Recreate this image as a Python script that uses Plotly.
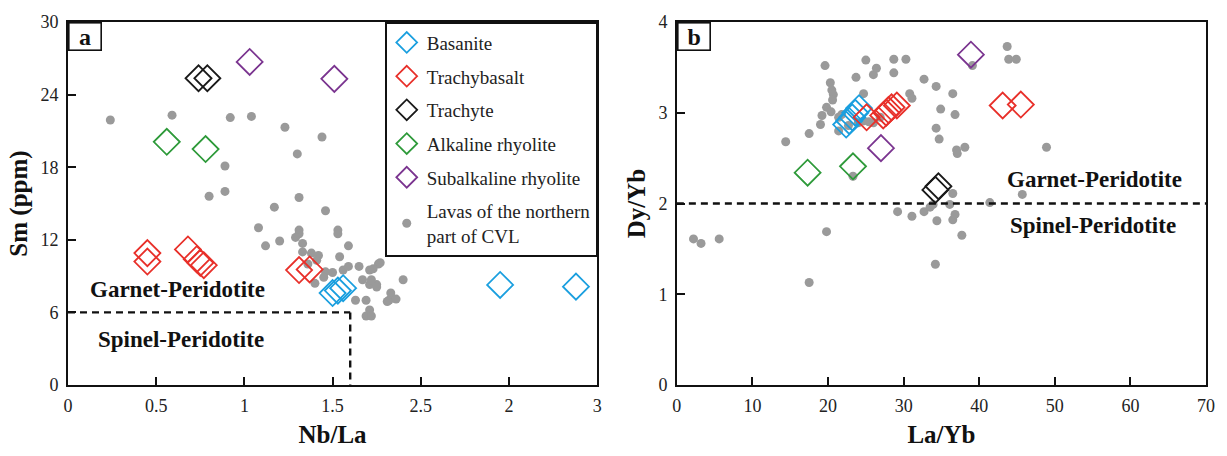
import plotly.graph_objects as go

# ---------------- Panel a data (Nb/La vs Sm) ----------------
a_bas_x = [1.50, 1.53, 1.56, 2.45, 2.88]
a_bas_y = [7.6, 7.8, 8.0, 8.27, 8.13]
a_tb_x = [0.45, 0.45, 0.68, 0.73, 0.75, 0.77, 1.31, 1.37]
a_tb_y = [10.9, 10.2, 11.2, 10.4, 10.1, 9.9, 9.5, 9.55]
a_tr_x = [0.74, 0.79]
a_tr_y = [25.35, 25.35]
a_ar_x = [0.56, 0.78]
a_ar_y = [20.1, 19.5]
a_sr_x = [1.03, 1.51]
a_sr_y = [26.7, 25.3]
a_cvl_x = [0.24, 0.59, 0.92, 1.04, 1.23, 1.44, 1.30, 0.89, 0.80, 0.89, 1.17, 1.31, 1.46,
           1.08, 1.12, 1.20, 1.31, 1.53, 1.31, 1.29, 1.53, 1.33, 1.59, 1.33, 1.38, 1.42,
           1.54, 1.41, 1.46, 1.40, 1.56, 1.59, 1.65, 1.71, 1.76, 1.67, 1.71, 1.75, 1.63,
           1.69, 1.71, 1.69, 1.83, 1.82, 1.90, 1.77, 1.73, 1.72, 1.75, 1.86, 1.81, 1.72,
           2.82, 1.36, 1.45, 1.50]
a_cvl_y = [21.9, 22.3, 22.1, 22.2, 21.3, 20.5, 19.1, 18.1, 15.6, 16.0, 14.7, 15.5, 14.4,
           13.0, 11.5, 11.9, 12.8, 12.8, 12.5, 12.2, 12.5, 11.7, 11.5, 11.0, 10.9, 10.7,
           10.6, 10.3, 9.35, 8.4, 9.5, 9.8, 9.8, 9.5, 10.0, 8.7, 8.3, 8.3, 7.0,
           7.0, 6.2, 5.7, 7.6, 7.0, 8.7, 10.1, 9.6, 8.7, 8.1, 7.1, 6.9, 5.7,
           11.1, 10.0, 8.9, 9.3]

# ---------------- Panel b data (La/Yb vs Dy/Yb) ----------------
b_bas_x = [22.4, 22.8, 23.2, 23.6, 24.1]
b_bas_y = [2.87, 2.91, 2.95, 3.00, 3.05]
b_tb_x = [25.1, 27.3, 27.7, 28.0, 28.4, 29.1, 43.1, 45.5]
b_tb_y = [2.95, 2.97, 3.00, 3.03, 3.06, 3.08, 3.08, 3.09]
b_tr_x = [34.2, 34.6]
b_tr_y = [2.15, 2.19]
b_ar_x = [17.3, 23.3]
b_ar_y = [2.34, 2.41]
b_sr_x = [27.0, 38.9]
b_sr_y = [2.61, 3.64]
b_cvl_x = [2.2, 3.2, 5.6, 14.4, 17.5, 17.5, 19.0, 19.2, 19.6, 19.8, 19.8, 20.3, 20.5, 20.7,
           20.6, 20.4, 21.4, 21.4, 21.8, 22.7, 23.3, 23.7, 24.0, 24.7, 24.7, 25.0, 25.4,
           26.0, 26.4, 26.0, 26.9, 28.7, 28.7, 29.2, 30.3, 30.8, 31.1, 31.1, 32.7, 32.7,
           33.5, 33.9, 34.2, 34.3, 34.4, 34.3, 34.7, 34.9, 36.1, 36.5, 36.5, 36.5, 36.8,
           36.8, 37.0, 37.1, 37.7, 38.1, 39.1, 41.4, 43.7, 43.9, 44.9, 45.7, 48.9]
b_cvl_y = [1.61, 1.56, 1.61, 2.68, 2.77, 1.13, 2.87, 2.97, 3.52, 3.06, 1.69, 3.33, 3.25, 3.20,
           3.14, 3.01, 2.80, 2.95, 2.98, 2.86, 2.30, 3.39, 2.89, 3.21, 2.91, 3.58, 2.90,
           3.42, 3.49, 2.89, 2.95, 3.59, 3.44, 1.91, 3.59, 3.21, 3.16, 1.86, 3.37, 1.91,
           1.96, 1.99, 1.33, 3.29, 1.81, 2.83, 2.71, 3.04, 1.99, 2.11, 1.82, 3.21, 2.98,
           1.88, 2.59, 2.55, 1.65, 2.62, 3.52, 2.01, 3.73, 3.59, 3.59, 2.10, 2.62]

a_xticks = [0, 0.5, 1, 1.5, 2, 2.5, 3]
a_xticktext = ["0", "0.5", "1", "1.5", "2.5", "2", "3"]
a_yticks = [0, 6, 12, 18, 24, 30]
b_xticks = [0, 10, 20, 30, 40, 50, 60, 70]
b_yticks = [0, 1, 2, 3, 4]

names = ["Basanite", "Trachybasalt", "Trachyte", "Alkaline rhyolite", "Subalkaline rhyolite"]
colors = ["#1a9fdf", "#e8302a", "#1a1a1a", "#2e9a3a", "#7b3590"]
cvl_name = "Lavas of the northern<br>part of CVL"
gray = "#9a9a9a"

SERIF = "Liberation Serif"

fig = go.Figure()

# gray dots first (drawn underneath)
fig.add_trace(go.Scatter(x=a_cvl_x, y=a_cvl_y, mode="markers", name=cvl_name,
                         marker=dict(color=gray, size=9), xaxis="x", yaxis="y",
                         legendgroup="cvl", legendrank=6))
fig.add_trace(go.Scatter(x=b_cvl_x, y=b_cvl_y, mode="markers", name=cvl_name,
                         marker=dict(color=gray, size=9), xaxis="x2", yaxis="y2",
                         legendgroup="cvl", showlegend=False))

a_sets = [(a_bas_x, a_bas_y), (a_tb_x, a_tb_y), (a_tr_x, a_tr_y), (a_ar_x, a_ar_y), (a_sr_x, a_sr_y)]
b_sets = [(b_bas_x, b_bas_y), (b_tb_x, b_tb_y), (b_tr_x, b_tr_y), (b_ar_x, b_ar_y), (b_sr_x, b_sr_y)]
for i, (nm, col) in enumerate(zip(names, colors)):
    ax, ay = a_sets[i]
    bx, by = b_sets[i]
    mk = dict(symbol="diamond-open", size=20, color=col, line=dict(width=1.8, color=col))
    fig.add_trace(go.Scatter(x=ax, y=ay, mode="markers", name=nm, marker=mk,
                             xaxis="x", yaxis="y", legendgroup=nm, legendrank=i + 1))
    fig.add_trace(go.Scatter(x=bx, y=by, mode="markers", name=nm, marker=mk,
                             xaxis="x2", yaxis="y2", legendgroup=nm, showlegend=False))

W, H = 1227, 456
ml, mr, mt, mb = 68, 17, 17, 70
pw = W - ml - mr
da = [0, 531 / pw]
db = [(679 - ml) / pw, 1]

axis_common = dict(showgrid=False, zeroline=False, showline=True, linecolor="#111",
                   linewidth=1.6, mirror=True, ticks="inside", ticklen=8, tickwidth=1.6,
                   tickcolor="#111", ticklabelstandoff=4,
                   tickfont=dict(family=SERIF, size=18, color="#222"))
title_font = dict(family=SERIF, size=25, color="#111")

fig.update_layout(
    width=W, height=H,
    margin=dict(l=ml, r=mr, t=mt, b=mb),
    plot_bgcolor="white", paper_bgcolor="white",
    xaxis=dict(domain=da, range=[0, 3], tickvals=a_xticks, ticktext=a_xticktext,
               title=dict(text="<b>Nb/La</b>", font=title_font, standoff=10), **axis_common),
    yaxis=dict(range=[0, 30], tickvals=a_yticks,
               title=dict(text="<b>Sm (ppm)</b>", font=title_font, standoff=6), **axis_common),
    xaxis2=dict(domain=db, range=[0, 70], tickvals=b_xticks, anchor="y2",
                title=dict(text="<b>La/Yb</b>", font=title_font, standoff=10), **axis_common),
    yaxis2=dict(range=[0, 4], tickvals=b_yticks, anchor="x2",
                title=dict(text="<b>Dy/Yb</b>", font=title_font, standoff=6), **axis_common),
    showlegend=True,
    legend=dict(x=da[1], xanchor="right", y=1, yanchor="top",
                bgcolor="white", bordercolor="#111", borderwidth=1.6,
                font=dict(family=SERIF, size=19, color="#222"),
                tracegroupgap=6, itemsizing="trace"),
)

dash = "7px,5px"
fig.add_shape(type="line", xref="x", yref="y", x0=0, x1=1.6, y0=6, y1=6,
              line=dict(color="#111", width=2.4, dash=dash))
fig.add_shape(type="line", xref="x", yref="y", x0=1.6, x1=1.6, y0=6, y1=0,
              line=dict(color="#111", width=2.4, dash=dash))
fig.add_shape(type="line", xref="x2", yref="y2", x0=0, x1=70, y0=2, y1=2,
              line=dict(color="#111", width=2.4, dash=dash))

lab_font = dict(family=SERIF, size=23, color="#111")
fig.add_annotation(x=0.62, y=7.86, xref="x", yref="y", text="<b>Garnet-Peridotite</b>",
                   showarrow=False, font=lab_font)
fig.add_annotation(x=0.64, y=3.76, xref="x", yref="y", text="<b>Spinel-Peridotite</b>",
                   showarrow=False, font=lab_font)
fig.add_annotation(x=55.2, y=2.27, xref="x2", yref="y2", text="<b>Garnet-Peridotite</b>",
                   showarrow=False, font=lab_font)
fig.add_annotation(x=55.1, y=1.76, xref="x2", yref="y2", text="<b>Spinel-Peridotite</b>",
                   showarrow=False, font=lab_font)

for ref, letter in [("x", "a"), ("x2", "b")]:
    yr = "y" if ref == "x" else "y2"
    fig.add_annotation(x=0, y=1, xref=ref + " domain", yref=yr + " domain", text="<b>" + letter + "</b>",
                       showarrow=False, xanchor="left", yanchor="top",
                       font=dict(family=SERIF, size=24, color="#111"),
                       bgcolor="white", bordercolor="#111", borderwidth=1.6,
                       borderpad=2, width=27, height=22)

fig.write_html("out.html")
